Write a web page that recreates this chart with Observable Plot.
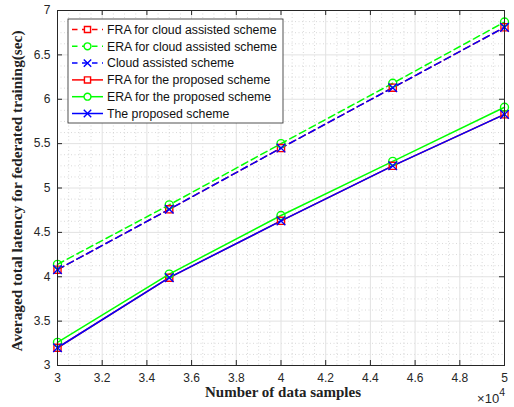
<!DOCTYPE html>
<html><head><meta charset="utf-8">
<script src="https://cdn.jsdelivr.net/npm/d3@7"></script>
<script src="https://cdn.jsdelivr.net/npm/@observablehq/plot@0.6"></script>
<style>body{margin:0;background:#fff} #chart{width:514px;height:407px}</style>
</head><body><div id="chart"></div>
<script>
// Data (number of data samples; latency in seconds)
const samples = [30000, 35000, 40000, 45000, 50000];
const fraCloud = [4.08, 4.76, 5.45, 6.13, 6.81];
const eraCloud = [4.14, 4.81, 5.50, 6.18, 6.87];
const cloudScheme = [4.08, 4.76, 5.45, 6.13, 6.81];
const fraProposed = [3.20, 3.99, 4.63, 5.25, 5.83];
const eraProposed = [3.26, 4.03, 4.69, 5.30, 5.91];
const proposedScheme = [3.20, 3.99, 4.63, 5.25, 5.83];

const seriesNames = [
  "FRA for cloud assisted scheme",
  "ERA for cloud assisted scheme",
  "Cloud assisted scheme",
  "FRA for the proposed scheme",
  "ERA for the proposed scheme",
  "The proposed scheme"
];
const seriesValues = [fraCloud, eraCloud, cloudScheme, fraProposed, eraProposed, proposedScheme];
const seriesColors = ["#ff0000", "#00ff00", "#0000ff", "#ff0000", "#00ff00", "#0000ff"];
const seriesSymbols = ["square", "circle", "times", "square", "circle", "times"];
const seriesDashed = [true, true, true, false, false, false];

const xTicks = [30000, 32000, 34000, 36000, 38000, 40000, 42000, 44000, 46000, 48000, 50000];
const xTickLabels = ["3", "3.2", "3.4", "3.6", "3.8", "4", "4.2", "4.4", "4.6", "4.8", "5"];
const yTicks = [3, 3.5, 4, 4.5, 5, 5.5, 6, 6.5, 7];
const yTickLabels = ["3", "3.5", "4", "4.5", "5", "5.5", "6", "6.5", "7"];
const xMinor = d3.range(30000, 50001, 500).filter(v => !xTicks.includes(v));
const yMinor = d3.range(3, 7.0001, 0.125).filter(v => !yTicks.some(t => Math.abs(t - v) < 1e-9));

const xTitle = "Number of data samples";
const yTitle = "Averaged total latency for federated training(sec)";
const xExponentBase = "×10";
const xExponentPower = "4";

const rows = [];
seriesNames.forEach((name, i) => {
  samples.forEach((s, j) => rows.push({series: name, idx: i, x: s, y: seriesValues[i][j]}));
});

const W = 514, H = 407;
const mL = 57, mR = 10, mT = 10, mB = 42;
const frameH = H - mT - mB;
const frameW = W - mL - mR;
const axisColor = "#262626";
const dash = "7,4";

const marks = [
  Plot.ruleX(xMinor, {stroke: "#c8c8c8", strokeDasharray: "1,2.5", strokeWidth: 0.7}),
  Plot.ruleY(yMinor, {stroke: "#c8c8c8", strokeDasharray: "1,2.5", strokeWidth: 0.7}),
  Plot.ruleX(xTicks, {stroke: "#e2e2e2", strokeWidth: 1}),
  Plot.ruleY(yTicks, {stroke: "#e2e2e2", strokeWidth: 1}),
];
seriesNames.forEach((name, i) => {
  const data = rows.filter(r => r.idx === i);
  marks.push(Plot.line(data, {x: "x", y: "y", stroke: seriesColors[i], strokeWidth: 1.5,
    strokeDasharray: seriesDashed[i] ? dash : null}));
});
seriesNames.forEach((name, i) => {
  const data = rows.filter(r => r.idx === i);
  marks.push(Plot.dot(data, {x: "x", y: "y", stroke: seriesColors[i], symbol: () => seriesSymbols[i],
    r: 4, strokeWidth: 1.4, fill: "none"}));
});
marks.push(
  Plot.tickX(xTicks, {x: d => d, insetTop: frameH - 5, stroke: axisColor}),
  Plot.tickX(xTicks, {x: d => d, insetBottom: frameH - 5, stroke: axisColor}),
  Plot.tickY(yTicks, {y: d => d, insetRight: frameW - 5, stroke: axisColor}),
  Plot.tickY(yTicks, {y: d => d, insetLeft: frameW - 5, stroke: axisColor}),
  Plot.frame({stroke: axisColor, strokeWidth: 1}),
  Plot.axisX(xTicks, {tickSize: 0, tickPadding: 8, fontSize: 12, fill: axisColor,
    tickFormat: d => xTickLabels[xTicks.indexOf(d)], label: null}),
  Plot.axisY(yTicks, {tickSize: 0, tickPadding: 7, fontSize: 12, fill: axisColor,
    tickFormat: d => yTickLabels[yTicks.indexOf(d)], label: null}),
  Plot.text([xTitle], {frameAnchor: "bottom", textAnchor: "middle", dx: 2, dy: 31, fontWeight: "bold", fontSize: 15,
    fontFamily: "Liberation Serif", fill: "#222"}),
  Plot.text([yTitle], {frameAnchor: "left", textAnchor: "middle", dx: -40, dy: 3, rotate: -90, fontWeight: "bold", fontSize: 15.3,
    fontFamily: "Liberation Serif", fill: "#222"})
);

const svg = Plot.plot({
  width: W, height: H,
  marginLeft: mL, marginRight: mR, marginTop: mT, marginBottom: mB,
  style: {fontFamily: "Liberation Sans, Arial, sans-serif", fontSize: "12px", color: axisColor, background: "#fff"},
  x: {type: "linear", domain: [30000, 50000], axis: null},
  y: {type: "linear", domain: [3, 7], axis: null},
  marks
});

// x-axis exponent
const ex = d3.select(svg).append("text").attr("x", W - 9).attr("y", H - 4)
  .attr("text-anchor", "end").attr("font-size", 13).attr("fill", axisColor);
ex.append("tspan").text(xExponentBase);
ex.append("tspan").attr("dy", -7).attr("font-size", 10.5).text(xExponentPower);

// Legend
const g = d3.select(svg).append("g").attr("class", "legend").attr("text-anchor", "start");
const lx = 68, ly = 19, lw = 215, rowH = 16.8;
g.append("rect").attr("x", lx).attr("y", ly).attr("width", lw).attr("height", 104)
  .attr("fill", "#fff").attr("stroke", axisColor).attr("stroke-width", 0.8);
seriesNames.forEach((name, i) => {
  const cy = ly + 10.5 + i * rowH;
  g.append("line").attr("x1", lx + 4).attr("x2", lx + 35).attr("y1", cy).attr("y2", cy)
    .attr("stroke", seriesColors[i]).attr("stroke-width", 1.5)
    .attr("stroke-dasharray", seriesDashed[i] ? "5.5,4.5" : null);
  const sym = {square: d3.symbolSquare, circle: d3.symbolCircle, times: d3.symbolTimes}[seriesSymbols[i]];
  g.append("path").attr("d", d3.symbol(sym, Math.PI * 12)())
    .attr("transform", `translate(${lx + 19.5},${cy})`)
    .attr("fill", seriesSymbols[i] === "times" ? "none" : "#fff")
    .attr("stroke", seriesColors[i]).attr("stroke-width", 1.4);
  g.append("text").attr("x", lx + 39).attr("y", cy).attr("dy", "0.35em")
    .attr("text-anchor", "start").attr("font-size", 12.3).attr("fill", "#111").text(name);
});

document.getElementById("chart").appendChild(svg);
</script>
</body></html>
